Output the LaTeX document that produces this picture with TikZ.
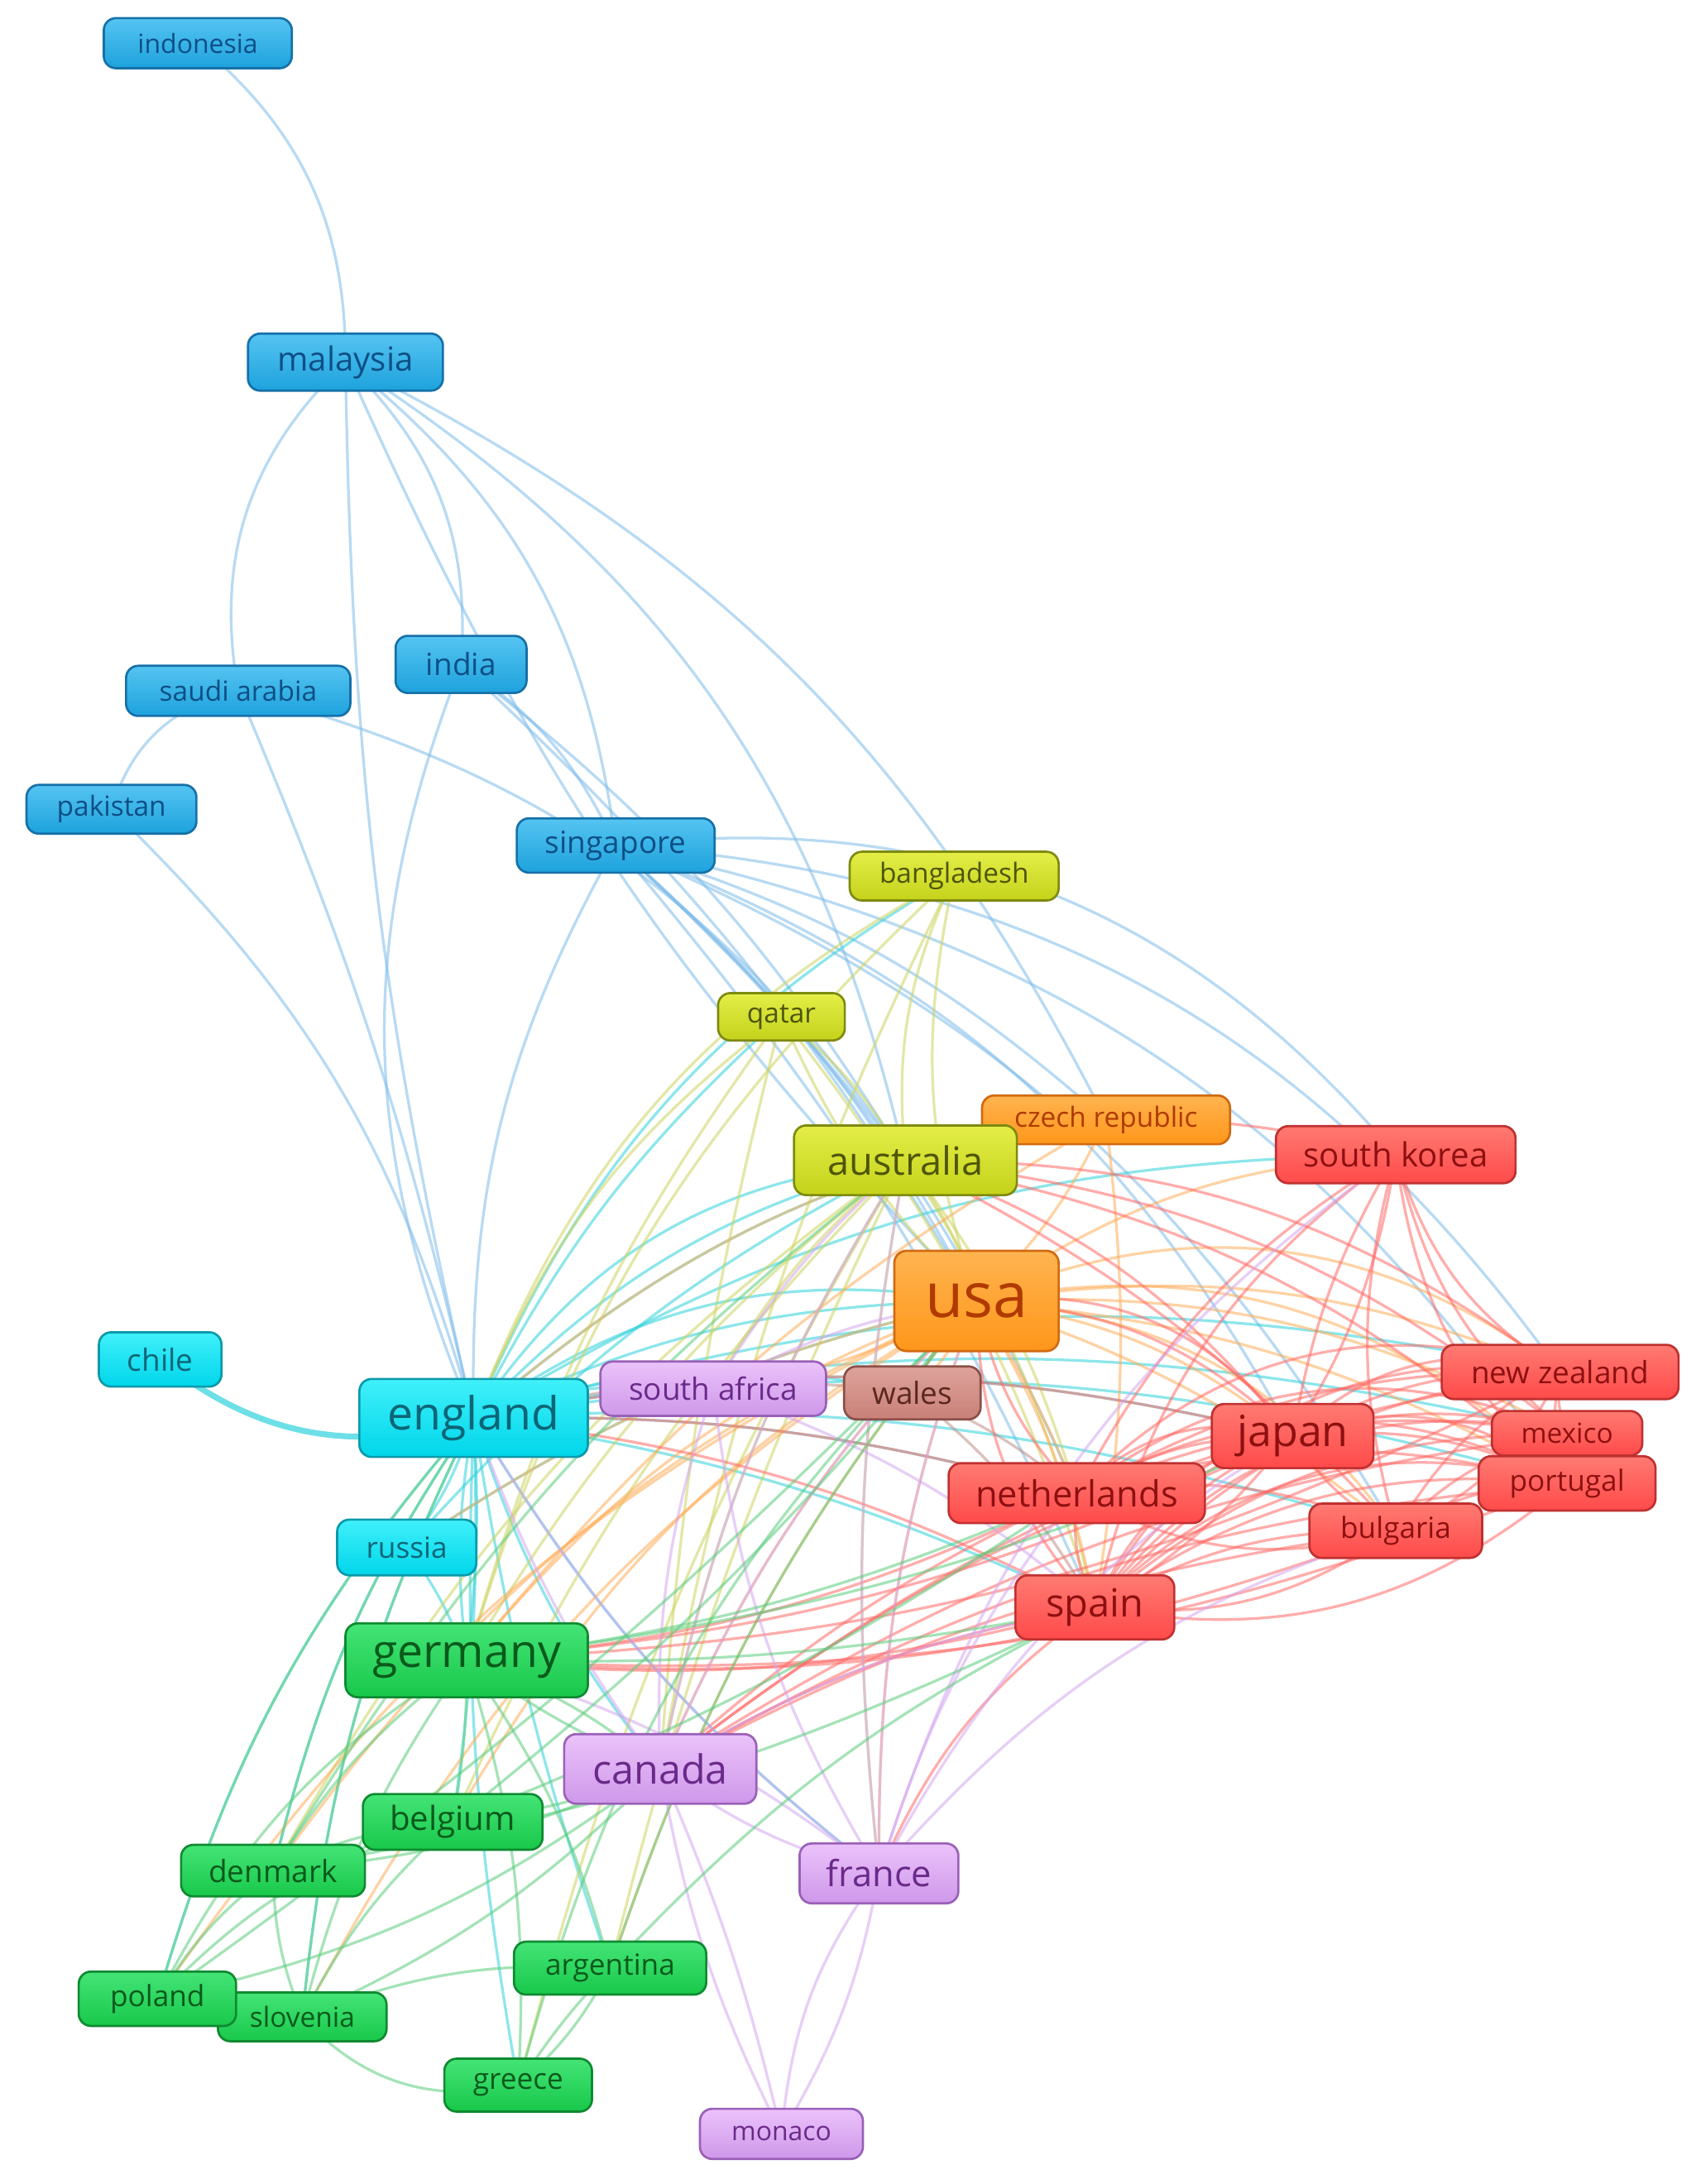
\documentclass[tikz,border=0pt]{standalone}
\usepackage{fontspec}
\setmainfont{Open Sans}
\pgfdeclarelayer{bg}
\pgfsetlayers{bg,main}
\definecolor{bluF}{HTML}{1DA2DC}\definecolor{bluL}{HTML}{55C4F2}\definecolor{bluD}{HTML}{1570A8}\definecolor{bluT}{HTML}{0D4F86}\definecolor{bluE}{HTML}{7EBCEA}
\definecolor{cyaF}{HTML}{00D6EA}\definecolor{cyaL}{HTML}{40F0FA}\definecolor{cyaD}{HTML}{0A9AAA}\definecolor{cyaT}{HTML}{0B6678}\definecolor{cyaE}{HTML}{30D2DC}
\definecolor{oliF}{HTML}{C4D21A}\definecolor{oliL}{HTML}{E4EE48}\definecolor{oliD}{HTML}{7E8A10}\definecolor{oliT}{HTML}{4E5608}\definecolor{oliE}{HTML}{CCD460}
\definecolor{orgF}{HTML}{FF961A}\definecolor{orgL}{HTML}{FFB450}\definecolor{orgD}{HTML}{D06A10}\definecolor{orgT}{HTML}{B03A00}\definecolor{orgE}{HTML}{FFAE5A}
\definecolor{redF}{HTML}{FF4A4A}\definecolor{redL}{HTML}{FF7A72}\definecolor{redD}{HTML}{C03030}\definecolor{redT}{HTML}{8E1010}\definecolor{redE}{HTML}{FF6A66}
\definecolor{purF}{HTML}{CE98EA}\definecolor{purL}{HTML}{EBC2FA}\definecolor{purD}{HTML}{9A60B8}\definecolor{purT}{HTML}{6A2A8A}\definecolor{purE}{HTML}{D4A6F0}
\definecolor{brnF}{HTML}{C98078}\definecolor{brnL}{HTML}{DDA39B}\definecolor{brnD}{HTML}{8A5048}\definecolor{brnT}{HTML}{5A2820}\definecolor{brnE}{HTML}{C09088}
\definecolor{grnF}{HTML}{18C84A}\definecolor{grnL}{HTML}{44E476}\definecolor{grnD}{HTML}{0E8A30}\definecolor{grnT}{HTML}{0A5A1C}\definecolor{grnE}{HTML}{5CCC7C}
\tikzset{
 nd/.style={rounded corners=5pt, draw=#1D, top color=#1L, bottom color=#1F, text=#1T, inner sep=0pt, line width=0.9pt},
 ed/.style={draw=#1E, line width=1.1pt, opacity=0.55},
}
\newcommand\vn[8]{\node[nd=#2, minimum width=#5*0.02cm, minimum height=#6*0.02cm, font=\fontsize{#7}{#7}\selectfont] (#1) at (#3,#4) {#8};}
\begin{document}
\begin{tikzpicture}[x=0.02cm,y=-0.02cm]
\useasboundingbox (0,0) rectangle (1221,1568);
% nodes
\vn{indo}{blu}{142}{31}{135}{36}{10.8}{indonesia}
\vn{malay}{blu}{248}{260}{140}{41}{13.6}{malaysia}
\vn{india}{blu}{331}{477}{94}{41}{12.5}{india}
\vn{saudi}{blu}{171}{496}{161}{36}{11.3}{saudi arabia}
\vn{pak}{blu}{80}{581}{122}{35}{11.3}{pakistan}
\vn{sing}{blu}{442}{607}{142}{39}{12.5}{singapore}
\vn{bang}{oli}{685}{629}{150}{35}{11.3}{bangladesh}
\vn{qatar}{oli}{561}{730}{91}{34}{11.3}{qatar}
\vn{czech}{org}{794}{804}{178}{35}{11.3}{czech republic}
\vn{aus}{oli}{650}{833}{160}{50}{15.9}{australia}
\vn{skor}{red}{1002}{829}{172}{41}{13.6}{south korea}
\vn{usa}{org}{701}{934}{118}{72}{25.5}{usa}
\vn{chile}{cya}{115}{976}{88}{39}{12.5}{chile}
\vn{eng}{cya}{340}{1018}{164}{56}{18.7}{england}
\vn{safr}{pur}{512}{997}{162}{39}{12.5}{south africa}
\vn{wales}{brn}{655}{1000}{98}{38}{12.5}{wales}
\vn{nz}{red}{1120}{985}{170}{39}{12.5}{new zealand}
\vn{jap}{red}{928}{1031}{116}{46}{17.6}{japan}
\vn{mex}{red}{1125}{1029}{108}{32}{11.3}{mexico}
\vn{neth}{red}{773}{1072}{184}{43}{14.7}{netherlands}
\vn{port}{red}{1125}{1065}{127}{39}{11.9}{portugal}
\vn{bul}{red}{1002}{1099}{124}{39}{11.9}{bulgaria}
\vn{rus}{cya}{292}{1111}{100}{40}{11.9}{russia}
\vn{spa}{red}{786}{1154}{114}{46}{15.9}{spain}
\vn{ger}{grn}{335}{1192}{174}{53}{18.7}{germany}
\vn{can}{pur}{474}{1270}{138}{50}{16.4}{canada}
\vn{bel}{grn}{325}{1308}{129}{40}{13.6}{belgium}
\vn{fra}{pur}{631}{1345}{114}{43}{14.7}{france}
\vn{den}{grn}{196}{1343}{132}{37}{12.5}{denmark}
\vn{arg}{grn}{438}{1413}{138}{38}{11.9}{argentina}
\vn{slo}{grn}{217}{1448}{121}{35}{11.3}{slovenia}
\vn{pol}{grn}{113}{1435}{113}{39}{11.9}{poland}
\vn{gre}{grn}{372}{1497}{106}{38}{11.9}{greece}
\vn{mon}{pur}{561}{1532}{117}{36}{10.8}{monaco}
\begin{pgfonlayer}{bg}
\fill[white] (0,0) rectangle (1221,1568);
% blue
\foreach \a/\b/\c in {indo/malay/25, saudi/malay/28, pak/saudi/30, malay/india/25, malay/sing/22, malay/aus/22, malay/usa/-10, malay/eng/-6,
  saudi/eng/5, pak/eng/15, india/eng/-22, india/sing/15, saudi/aus/20, india/aus/10, india/usa/8,
  sing/aus/5, sing/usa/10, sing/neth/12, sing/skor/28, sing/nz/25, sing/jap/20, sing/spa/8, sing/eng/-15, sing/czech/12, sing/bul/18, malay/czech/18, sing/port/22}
  \draw[ed=blu] (\a.center) to[bend left=\c] (\b.center);
% cyan
\draw[ed=cya, line width=2.4pt, opacity=0.7] (chile.center) to[bend left=-28] (eng.center);
\foreach \a/\b/\c in {eng/rus/10, eng/ger/5, eng/ger/-8, eng/usa/12, eng/aus/15, eng/aus/25, eng/can/-10, eng/neth/8, eng/spa/8, eng/jap/12, eng/fra/-10, eng/bel/5,
  eng/den/-10, eng/safr/12, eng/wales/15, eng/czech/15, eng/qatar/10, eng/bang/18, eng/arg/-5, eng/nz/14, eng/skor/15, eng/bul/10, eng/port/12, eng/mex/12,
  rus/ger/8, rus/usa/10, rus/aus/10, eng/pol/-12, eng/slo/-10, eng/gre/-6, eng/usa/22}
  \draw[ed=cya] (\a.center) to[bend left=\c] (\b.center);
% olive
\foreach \a/\b/\c in {aus/bang/15, aus/qatar/-10, aus/usa/10, bang/usa/-15, qatar/usa/-10, qatar/eng/-15, qatar/ger/-10, bang/eng/-20, aus/ger/-10,
  aus/can/-10, aus/spa/10, aus/neth/10, aus/safr/-10, bang/can/-8, qatar/can/-5, aus/fra/-8, aus/den/-12, aus/bel/-10, bang/ger/-15, qatar/spa/10, aus/arg/-6, aus/gre/-8}
  \draw[ed=oli] (\a.center) to[bend left=\c] (\b.center);
% orange
\foreach \a/\b/\c in {usa/czech/-10, usa/ger/-15, usa/can/-10, usa/spa/10, usa/neth/5, usa/jap/15, usa/skor/15, usa/nz/15, usa/mex/15, usa/port/12,
  usa/bul/10, usa/fra/-10, usa/safr/10, usa/wales/10, usa/bel/-15, usa/den/-15, usa/arg/-10, usa/slo/-15, usa/pol/-15, czech/eng/-15, czech/ger/-10, usa/rus/-10, czech/spa/8,
  usa/nz/30, usa/port/28, usa/bul/25}
  \draw[ed=org] (\a.center) to[bend left=\c] (\b.center);
% red
\foreach \a/\b/\c in {neth/jap/15, neth/nz/15, neth/mex/15, neth/port/15, neth/bul/15, neth/skor/15, neth/spa/-15,
  jap/nz/15, jap/mex/15, jap/port/15, jap/bul/-15, jap/skor/10, jap/spa/-15,
  spa/nz/20, spa/mex/20, spa/port/20, spa/bul/15, spa/skor/20, spa/jap/25,
  bul/port/15, bul/mex/15, bul/nz/15, nz/mex/-15, nz/port/-15, mex/port/-15, skor/nz/-20, skor/port/-20, skor/mex/-18, skor/bul/-15,
  spa/ger/10, spa/can/-10, spa/fra/-15, jap/ger/10, neth/ger/10, neth/can/-8, jap/can/-10, bul/ger/12, port/ger/12, nz/ger/12, mex/can/-12,
  aus/jap/15, aus/skor/15, aus/nz/18, aus/port/15, aus/bul/10, aus/mex/16, neth/eng/-8, jap/eng/-12, spa/eng/-10, bul/can/-10, port/can/-12, nz/can/-14,
  spa/usa/20, neth/usa/15, jap/usa/-20, skor/spa/25, port/spa/25, nz/bul/20,
  neth/nz/32, neth/mex/30, neth/port/28, spa/nz/35, spa/mex/32, spa/port/30, jap/nz/30, jap/port/30, neth/jap/30, usa/jap/30, spa/bul/-20, neth/bul/-22}
  \draw[ed=red] (\a.center) to[bend left=\c] (\b.center);
% purple
\foreach \a/\b/\c in {can/fra/-10, can/usa/10, can/aus/10, can/spa/10, fra/mon/-15, can/mon/-8, can/mon/5, fra/mon/10, fra/usa/10, fra/jap/15, fra/neth/10,
  safr/usa/10, safr/can/-10, safr/spa/10, fra/ger/-10, fra/skor/18, fra/bul/15, safr/aus/8, fra/eng/10, can/eng/8, fra/aus/8, safr/fra/-12}
  \draw[ed=pur] (\a.center) to[bend left=\c] (\b.center);
% brown
\foreach \a/\b/\c in {wales/usa/10, wales/eng/-10, wales/spa/10, wales/neth/8}
  \draw[ed=brn] (\a.center) to[bend left=\c] (\b.center);
% green
\foreach \a/\b/\c in {ger/bel/5, ger/den/-10, ger/pol/-15, ger/slo/-10, ger/arg/10, ger/gre/10, ger/can/10, ger/can/-6, bel/den/-10, bel/pol/-15, bel/slo/-10,
  den/pol/-10, den/slo/-10, pol/slo/-15, arg/gre/10, arg/gre/-5, slo/gre/-30, gre/usa/15, arg/usa/10, arg/spa/10, arg/slo/-12, pol/can/-12, slo/can/-10,
  den/can/-10, bel/can/-8, pol/usa/-5, den/spa/-8, bel/usa/-6, bel/neth/-6, ger/spa/-6, ger/neth/-8, ger/jap/-8, den/aus/10, pol/eng/12, slo/eng/10, den/eng/10}
  \draw[ed=grn] (\a.center) to[bend left=\c] (\b.center);
\end{pgfonlayer}
\end{tikzpicture}
\end{document}
